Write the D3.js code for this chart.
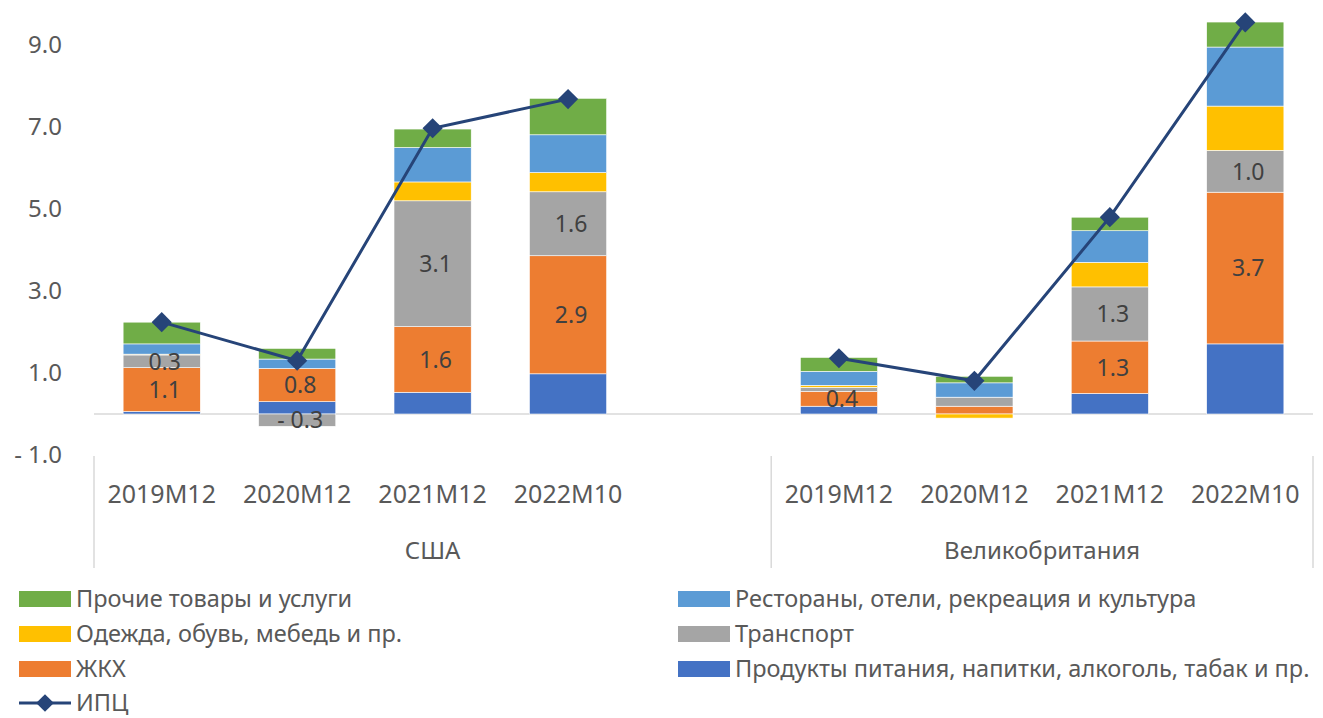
<!DOCTYPE html>
<meta charset="utf-8">
<html>
<head>
    <script src="https://d3js.org/d3.v7.min.js"></script>
    <style>
        body { margin: 0; background: #fff; }
        text { font-family: "Noto Sans", sans-serif; fill: #595959; }
    </style>
</head>
<body>
<script>
    // categories
    const periods = ["2019M12", "2020M12", "2021M12", "2022M10"];
    const countries = ["США", "Великобритания"];

    // contributions, US 4 periods then UK 4 periods
    const food        = [0.06, 0.30, 0.53, 0.98, 0.19, 0.00, 0.50, 1.71];
    const housing     = [1.07, 0.81, 1.60, 2.88, 0.36, 0.19, 1.28, 3.70];
    const transport   = [0.31, -0.30, 3.07, 1.56, 0.10, 0.22, 1.32, 1.02];
    const clothing    = [0.02, 0.00, 0.46, 0.47, 0.05, -0.10, 0.60, 1.08];
    const restaurants = [0.25, 0.23, 0.84, 0.92, 0.34, 0.35, 0.77, 1.44];
    const other       = [0.53, 0.26, 0.45, 0.89, 0.34, 0.16, 0.33, 0.61];
    const cpi         = [2.24, 1.30, 6.97, 7.68, 1.36, 0.81, 4.80, 9.55];

    const yTicks = [-1, 1, 3, 5, 7, 9];

    const series = [
        { key: "food", name: "Продукты питания, напитки, алкоголь, табак и пр.", color: "#4472C4", values: food },
        { key: "housing", name: "ЖКХ", color: "#ED7D31", values: housing, labels: true },
        { key: "transport", name: "Транспорт", color: "#A5A5A5", values: transport, labels: true },
        { key: "clothing", name: "Одежда, обувь, мебедь и пр.", color: "#FFC000", values: clothing },
        { key: "restaurants", name: "Рестораны, отели, рекреация и культура", color: "#5B9BD5", values: restaurants },
        { key: "other", name: "Прочие товары и услуги", color: "#70AD47", values: other }
    ];
    const lineColor = "#264478";

    const width = 1323, height = 718;
    const svg = d3.select("body").append("svg")
        .attr("width", width)
        .attr("height", height);

    // rows: one per bar, plus an empty slot after the US group
    const rows = [];
    countries.forEach(function(c, ci) {
        periods.forEach(function(p, pi) {
            const i = ci * periods.length + pi;
            const row = { id: c + "|" + p, country: c, period: p, cpi: cpi[i] };
            series.forEach(function(s) { row[s.key] = s.values[i]; });
            rows.push(row);
        });
        if (ci == 0) rows.push({ id: "gap", empty: true });
    });
    const bars = rows.filter(function(d) { return !d.empty; });

    const x = d3.scaleBand()
        .domain(rows.map(function(d) { return d.id; }))
        .range([94, 1313])
        .paddingInner(0.43)
        .paddingOuter(0.215);

    const y = d3.scaleLinear()
        .domain([-1, 10])
        .range([455, 4]);

    const fmt = function(v) {
        const s = d3.format(".1f")(Math.abs(v));
        return v < 0 ? "- " + s : s;
    };

    // y axis labels
    svg.append("g")
        .selectAll("text")
        .data(yTicks)
        .join("text")
        .attr("x", 62)
        .attr("y", function(d) { return y(d); })
        .attr("dy", "0.35em")
        .attr("text-anchor", "end")
        .style("font-size", "24px")
        .text(fmt);

    // zero line
    svg.append("line")
        .attr("x1", 94).attr("x2", 1313)
        .attr("y1", y(0)).attr("y2", y(0))
        .attr("stroke", "#d9d9d9")
        .attr("stroke-width", 1.5);

    // stacked bars
    const stack = d3.stack()
        .keys(series.map(function(s) { return s.key; }))
        .offset(d3.stackOffsetDiverging);
    const stacked = stack(bars);

    svg.append("g")
        .selectAll("g")
        .data(stacked)
        .join("g")
        .attr("fill", function(d, i) { return series[i].color; })
        .selectAll("rect")
        .data(function(d) { return d; })
        .join("rect")
        .attr("x", function(d) { return x(d.data.id); })
        .attr("width", x.bandwidth())
        .attr("y", function(d) { return y(Math.max(d[0], d[1])); })
        .attr("height", function(d) { return Math.abs(y(d[0]) - y(d[1])); })
        .attr("stroke", "#fff")
        .attr("stroke-width", 0.6);

    // data labels for ЖКХ and Транспорт
    stacked.forEach(function(layer, i) {
        if (!series[i].labels) return;
        svg.append("g")
            .selectAll("text")
            .data(layer.filter(function(d) { return Math.abs(d[1] - d[0]) >= 0.25; }))
            .join("text")
            .attr("x", function(d) { return x(d.data.id) + x.bandwidth() / 2 + 3; })
            .attr("y", function(d) { return y((d[0] + d[1]) / 2); })
            .attr("dy", "0.36em")
            .attr("text-anchor", "middle")
            .style("font-size", "23px")
            .style("fill", "#404040")
            .text(function(d) { return fmt(d.data[series[i].key]); });
    });

    // CPI line per country
    const line = d3.line()
        .x(function(d) { return x(d.id) + x.bandwidth() / 2; })
        .y(function(d) { return y(d.cpi); });

    countries.forEach(function(c) {
        const pts = bars.filter(function(d) { return d.country == c; });
        svg.append("path")
            .datum(pts)
            .attr("fill", "none")
            .attr("stroke", lineColor)
            .attr("stroke-width", 3)
            .attr("d", line);
    });

    svg.append("g")
        .selectAll("path")
        .data(bars)
        .join("path")
        .attr("d", d3.symbol().type(d3.symbolDiamond2).size(260))
        .attr("transform", function(d) {
            return "translate(" + (x(d.id) + x.bandwidth() / 2) + "," + y(d.cpi) + ")";
        })
        .attr("fill", lineColor);

    // category labels
    svg.append("g")
        .selectAll("text")
        .data(bars)
        .join("text")
        .attr("x", function(d) { return x(d.id) + x.bandwidth() / 2; })
        .attr("y", 494)
        .attr("dy", "0.35em")
        .attr("text-anchor", "middle")
        .style("font-size", "25px")
        .text(function(d) { return d.period; });

    // group separators and group labels
    const half = x.step() * x.paddingInner() / 2;
    const bounds = [
        x(rows[0].id) - half,
        x(countries[1] + "|" + periods[0]) - half,
        x(rows[rows.length - 1].id) + x.bandwidth() + half
    ];
    svg.append("g")
        .selectAll("line")
        .data(bounds)
        .join("line")
        .attr("x1", function(d) { return d; })
        .attr("x2", function(d) { return d; })
        .attr("y1", 456).attr("y2", 568)
        .attr("stroke", "#d9d9d9")
        .attr("stroke-width", 1.5);

    svg.append("g")
        .selectAll("text")
        .data(countries)
        .join("text")
        .attr("x", function(d, i) { return (bounds[i] + bounds[i + 1]) / 2; })
        .attr("y", 551)
        .attr("dy", "0.35em")
        .attr("text-anchor", "middle")
        .style("font-size", "24px")
        .text(function(d) { return d; });

    // legend
    const legendItems = [
        { s: series[5], col: 0, row: 0 },
        { s: series[4], col: 1, row: 0 },
        { s: series[3], col: 0, row: 1 },
        { s: series[2], col: 1, row: 1 },
        { s: series[1], col: 0, row: 2 },
        { s: series[0], col: 1, row: 2 }
    ];
    const legendX = [19, 678], legendY = [599, 634, 669, 703];

    const legend = svg.append("g");
    legend.selectAll("rect")
        .data(legendItems)
        .join("rect")
        .attr("x", function(d) { return legendX[d.col]; })
        .attr("y", function(d) { return legendY[d.row] - 8; })
        .attr("width", 52)
        .attr("height", 16)
        .attr("fill", function(d) { return d.s.color; });

    legend.selectAll("text")
        .data(legendItems)
        .join("text")
        .attr("x", function(d) { return legendX[d.col] + 57; })
        .attr("y", function(d) { return legendY[d.row]; })
        .attr("dy", "0.35em")
        .style("font-size", "23.5px")
        .text(function(d) { return d.s.name; });

    legend.append("line")
        .attr("x1", 19).attr("x2", 71)
        .attr("y1", legendY[3]).attr("y2", legendY[3])
        .attr("stroke", lineColor)
        .attr("stroke-width", 3);
    legend.append("path")
        .attr("d", d3.symbol().type(d3.symbolDiamond2).size(200))
        .attr("transform", "translate(45," + legendY[3] + ")")
        .attr("fill", lineColor);
    legend.append("text")
        .attr("x", 76)
        .attr("y", legendY[3])
        .attr("dy", "0.35em")
        .style("font-size", "23.5px")
        .text("ИПЦ");
</script>
</body>
</html>
